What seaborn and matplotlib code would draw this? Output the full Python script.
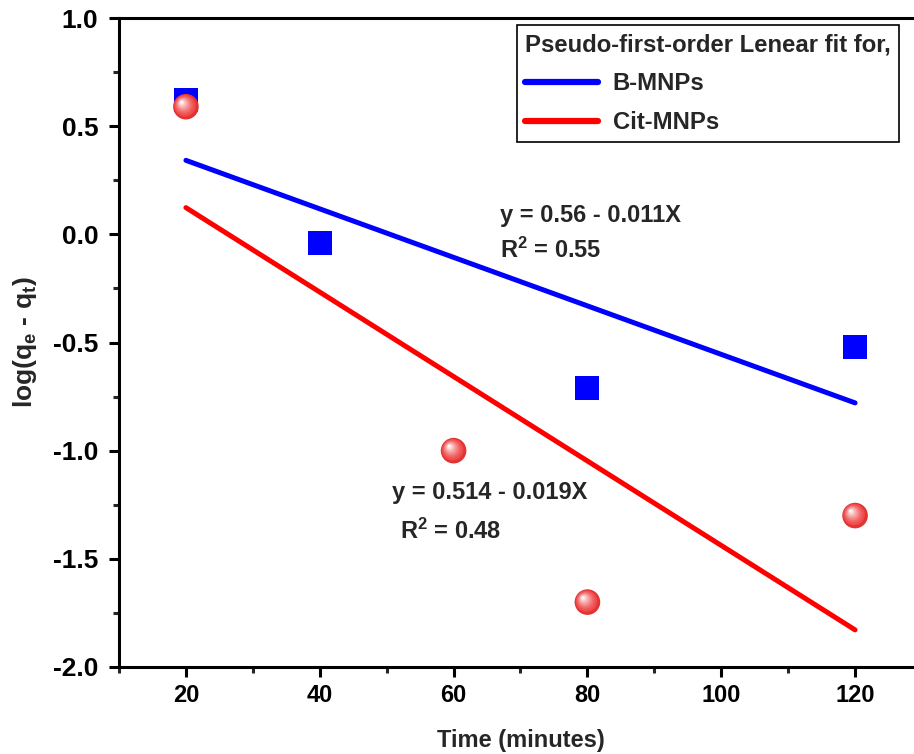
import numpy as np
import pandas as pd
import seaborn as sns
import matplotlib
matplotlib.use("Agg")
import matplotlib.pyplot as plt
from matplotlib.ticker import MultipleLocator
import matplotlib.transforms as mtransforms
from matplotlib.colors import to_rgb

# ---- data ----
b_time = [20, 40, 80, 120]
b_logq = [0.62, -0.04, -0.71, -0.52]
cit_time = [20, 60, 80, 120]
cit_logq = [0.59, -1.00, -1.70, -1.30]
series_names = ["B-MNPs", "Cit-MNPs"]
legend_title = "Pseudo-first-order Lenear fit for,"
b_eq = ["y = 0.56 - 0.011X", "R$^2$ = 0.55"]
cit_eq = ["y = 0.514 - 0.019X", "R$^2$ = 0.48"]

sns.set_theme(style="ticks")
plt.rcParams['font.family'] = ['Liberation Sans', 'DejaVu Sans']
plt.rcParams['font.weight'] = 'bold'
plt.rcParams['mathtext.fontset'] = 'custom'
plt.rcParams['mathtext.rm'] = 'Liberation Sans:bold'
plt.rcParams['mathtext.bf'] = 'Liberation Sans:bold'
plt.rcParams['mathtext.it'] = 'Liberation Sans:bold'
plt.rcParams['mathtext.default'] = 'bf'
plt.rcParams['axes.unicode_minus'] = False

FS = 17

fig = plt.figure(figsize=(9.14, 7.54), dpi=100)
ax = fig.add_axes([119/914, 1-667/754, (922-119)/914, (667-18)/754])

dfb = pd.DataFrame({"t": b_time, "v": b_logq})
dfc = pd.DataFrame({"t": cit_time, "v": cit_logq})

sns.regplot(data=dfb, x="t", y="v", ci=None, scatter=False, ax=ax,
            line_kws=dict(color="#0000ff", lw=3.6, solid_capstyle="round"))
sns.regplot(data=dfc, x="t", y="v", ci=None, scatter=False, ax=ax,
            line_kws=dict(color="#ff0000", lw=3.6, solid_capstyle="round"))

sns.scatterplot(data=dfb, x="t", y="v", marker="s", s=300, color="#0000ff",
                edgecolor="none", ax=ax, zorder=4, legend=False)

# shaded spheres
base_s = 340
sns.scatterplot(data=dfc, x="t", y="v", marker="o", s=base_s, color="#e23434",
                edgecolor="none", ax=ax, zorder=5, legend=False)
c0 = np.array(to_rgb("#f04a4a"))
c1 = np.array([1.0, 1.0, 1.0])
n = 9
for i in range(n):
    f = i / (n - 1)
    scale = (0.84 - 0.76 * f) ** 2
    col = c0 * (1 - f ** 1.3) + c1 * f ** 1.3
    d = 1.0 + 3.5 * f
    sns.scatterplot(data=dfc, x="t", y="v", marker="o", s=base_s * scale,
                    color=col, edgecolor="none", ax=ax, zorder=5, legend=False)
    coll = ax.collections[-1]
    coll.set_offset_transform(mtransforms.offset_copy(ax.transData, fig=fig,
                                                      x=-d, y=d, units="dots"))

ax.set_xlim(10, 130)
ax.set_ylim(-2.0, 1.0)
ax.set_xticks([20, 40, 60, 80, 100, 120])
ax.xaxis.set_minor_locator(MultipleLocator(10))
ax.yaxis.set_major_locator(MultipleLocator(0.5))
ax.yaxis.set_minor_locator(MultipleLocator(0.25))

for sp in ax.spines.values():
    sp.set_linewidth(2.2)
    sp.set_color("black")
ax.tick_params(which="major", direction="out", length=7, width=2.2,
               pad=5, colors="black")
ax.tick_params(axis="x", which="major", labelsize=FS)
ax.tick_params(axis="y", which="major", labelsize=19, pad=8)
ax.tick_params(which="minor", direction="out", length=4, width=2.2)
ax.tick_params(top=False, right=False, which="both")
for lab in ax.get_xticklabels() + ax.get_yticklabels():
    lab.set_fontweight("bold")

ax.set_xlabel("Time (minutes)", fontsize=FS, fontweight="bold", labelpad=16)
ax.set_ylabel("log(q$_e$ - q$_t$)", fontsize=19, fontweight="bold", labelpad=10)

ax.text(66.9, 0.057, b_eq[0], fontsize=FS, fontweight="bold", va="baseline")
ax.text(66.9, -0.11, b_eq[1], fontsize=FS, fontweight="bold", va="baseline")
ax.text(50.8, -1.225, cit_eq[0], fontsize=FS, fontweight="bold", va="baseline")
ax.text(52.0, -1.41, cit_eq[1], fontsize=FS, fontweight="bold", va="baseline")

handles = [ax.lines[0], ax.lines[1]]
leg = ax.legend(handles, series_names, title=legend_title,
                loc="upper left", bbox_to_anchor=((517-119)/803, 1-(25-18)/649),
                frameon=True, fancybox=False, edgecolor="black",
                prop=dict(weight="bold", size=17.2),
                title_fontproperties=dict(weight="bold", size=17.2),
                alignment="left", handlelength=3.05, handletextpad=0.6,
                borderpad=0.35, labelspacing=0.66, borderaxespad=0)
leg.get_frame().set_linewidth(1.2)
leg.get_frame().set_alpha(1)
for line in leg.get_lines():
    line.set_linewidth(4.5)

fig.savefig("out.png", dpi=100)
